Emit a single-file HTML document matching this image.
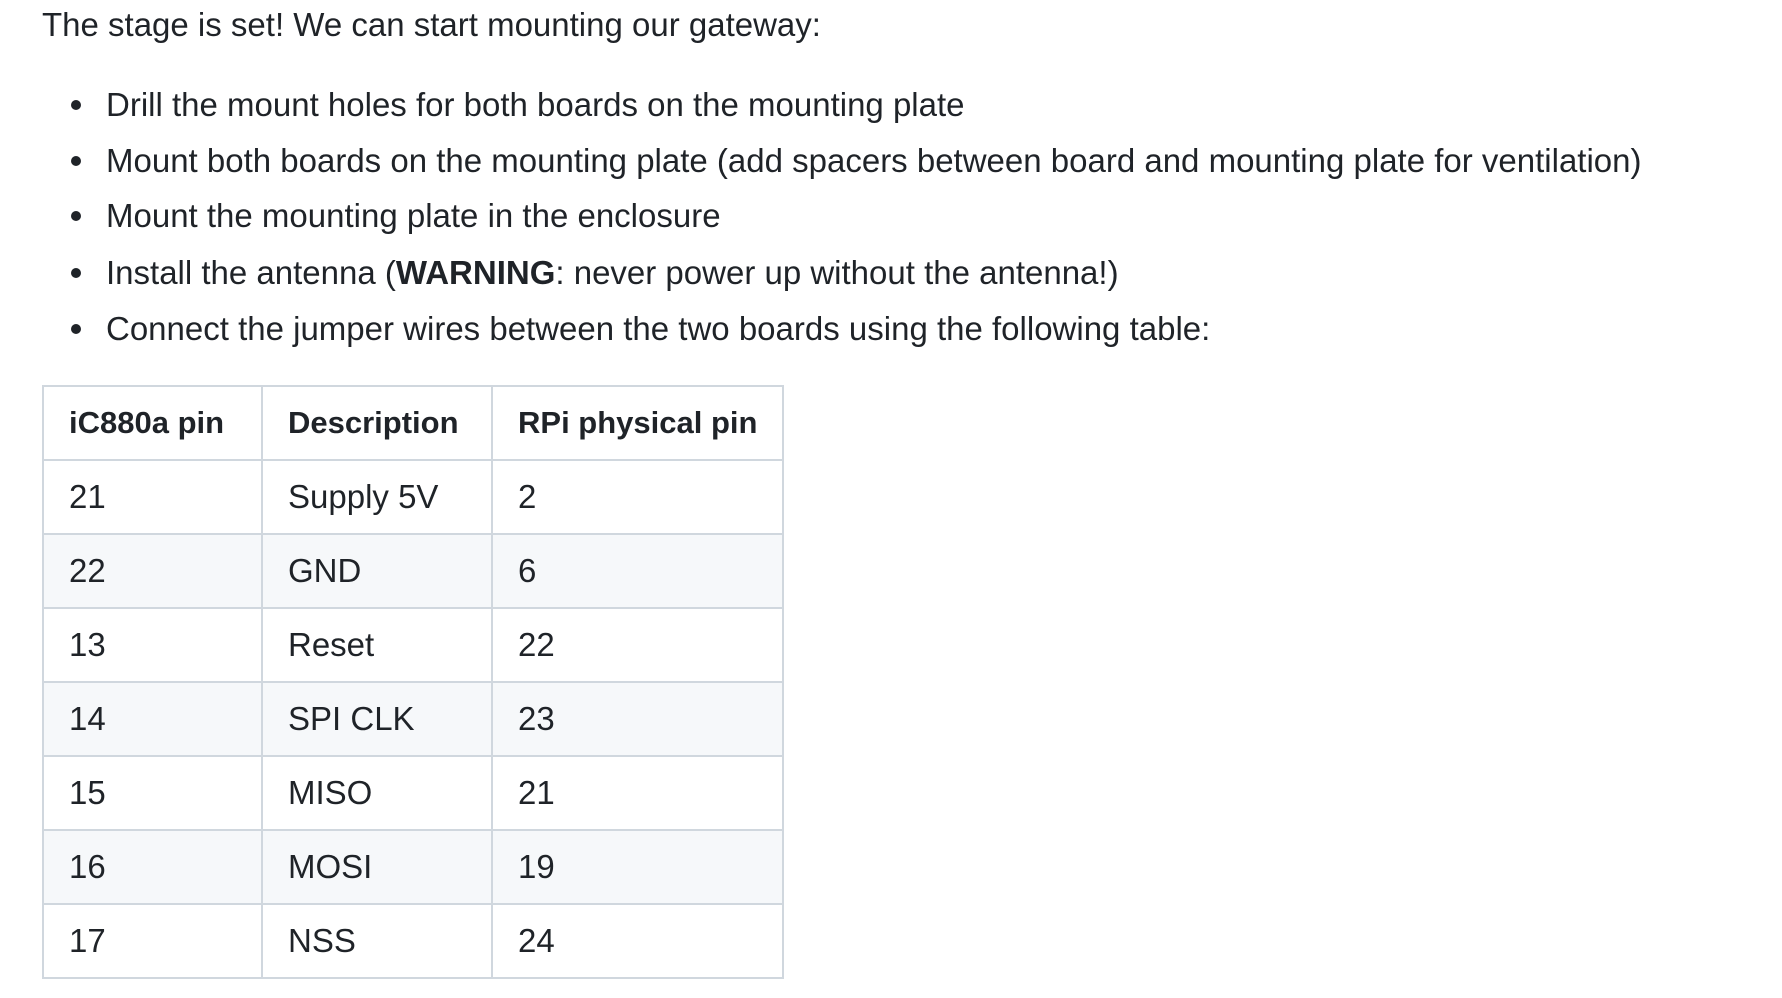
<!DOCTYPE html>
<html><head><meta charset="utf-8"><style>
body{margin:0;width:1782px;height:998px;background:#fff;color:#1f2328;font-family:"Liberation Sans",sans-serif;font-size:33px;position:relative;overflow:hidden}
.t{position:absolute;white-space:nowrap;line-height:40px;height:40px}
.dot{position:absolute;width:10px;height:10px;border-radius:50%;background:#1f2328}
table{position:absolute;left:42px;top:385px;border-collapse:collapse;table-layout:fixed;width:740px}
td,th{border:2px solid #d0d7de;text-align:left;padding:0 0 0 25px;font-size:33px;height:72px;box-sizing:border-box;white-space:nowrap}
tr{height:74px}
th{font-weight:bold;font-size:31px}
tr.g td{background:#f6f8fa}
</style></head><body>
<div class="t" style="left:42px;top:5px">The stage is set! We can start mounting our gateway:</div>
<div class="dot" style="left:71px;top:100px"></div><div class="t" style="left:106px;top:85px">Drill the mount holes for both boards on the mounting plate</div>
<div class="dot" style="left:71px;top:156px"></div><div class="t" style="left:106px;top:141px">Mount both boards on the mounting plate (add spacers between board and mounting plate for ventilation)</div>
<div class="dot" style="left:71px;top:211px"></div><div class="t" style="left:106px;top:196px">Mount the mounting plate in the enclosure</div>
<div class="dot" style="left:71px;top:268px"></div><div class="t" style="left:106px;top:253px">Install the antenna (<b>WARNING</b>: never power up without the antenna!)</div>
<div class="dot" style="left:71px;top:324px"></div><div class="t" style="left:106px;top:309px">Connect the jumper wires between the two boards using the following table:</div>
<table>
<colgroup><col style="width:219px"><col style="width:230px"><col style="width:291px"></colgroup>
<tr><th>iC880a pin</th><th>Description</th><th>RPi physical pin</th></tr>
<tr><td>21</td><td>Supply 5V</td><td>2</td></tr>
<tr class="g"><td>22</td><td>GND</td><td>6</td></tr>
<tr><td>13</td><td>Reset</td><td>22</td></tr>
<tr class="g"><td>14</td><td>SPI CLK</td><td>23</td></tr>
<tr><td>15</td><td>MISO</td><td>21</td></tr>
<tr class="g"><td>16</td><td>MOSI</td><td>19</td></tr>
<tr><td>17</td><td>NSS</td><td>24</td></tr>
</table>
</body></html>
